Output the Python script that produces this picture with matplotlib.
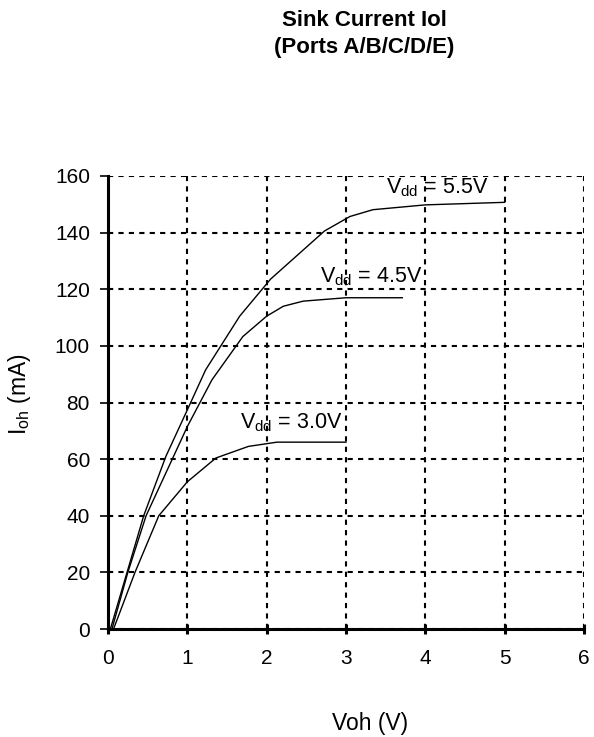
import matplotlib
matplotlib.use("Agg")
import matplotlib.pyplot as plt

plt.rcParams['font.family'] = ['Liberation Sans', 'DejaVu Sans']
plt.rcParams['mathtext.fontset'] = 'custom'
plt.rcParams['mathtext.rm'] = 'Liberation Sans'
plt.rcParams['mathtext.it'] = 'Liberation Sans:italic'

# Sink current curves
v55_x = [0.03, 0.45, 0.73, 1.0, 1.23, 1.66, 2.05, 2.73, 3.05, 3.34, 4.0, 5.0]
v55_y = [0, 40, 61, 77.4, 91.5, 110.5, 123.6, 140.6, 145.7, 148.1, 149.8, 150.7]

v45_x = [0.05, 0.25, 0.48, 1.0, 1.31, 1.70, 2.0, 2.21, 2.46, 3.0, 3.71]
v45_y = [0, 20, 40, 71.5, 88, 103.3, 110.5, 114, 115.8, 117, 117]

v30_x = [0.07, 0.34, 0.64, 1.0, 1.36, 1.77, 2.13, 2.5, 3.0]
v30_y = [0, 20, 40, 52, 60.4, 64.5, 66, 66, 66]

x_ticks = [0, 1, 2, 3, 4, 5, 6]
y_ticks = [0, 20, 40, 60, 80, 100, 120, 140, 160]

fig = plt.figure(figsize=(5.94, 7.37), dpi=100)
ax = fig.add_axes([0.1818, 0.1465, 0.8014, 0.6147])

for xs, ys in [(v55_x, v55_y), (v45_x, v45_y), (v30_x, v30_y)]:
    ax.plot(xs, ys, color='black', lw=1.0, zorder=3)

ax.set_xlim(0, 6)
ax.set_ylim(0, 160)
ax.set_xticks(x_ticks)
ax.set_yticks(y_ticks)

ax.grid(True, color='black', linestyle=(0, (2.5, 2.5)), lw=1.5)
ax.spines['top'].set_visible(False)
ax.spines['right'].set_visible(False)
ax.spines['left'].set_linewidth(2.2)
ax.spines['bottom'].set_linewidth(2.2)
ax.spines['left'].set_zorder(4)
ax.spines['bottom'].set_zorder(4)
ax.tick_params(axis='y', direction='out', length=6, width=1.2, pad=7, labelsize=15)
ax.tick_params(axis='x', direction='inout', length=7, width=2.2, pad=11, labelsize=15)

# curve labels
lab_kw = dict(fontsize=15.5, ha='left', va='baseline', zorder=5)
ax.text(3.51, 153.8, r'V$_{\rm dd}$ = 5.5V', **lab_kw)
ax.text(2.67, 122.4, r'V$_{\rm dd}$ = 4.5V', **lab_kw)
ax.text(1.66, 70.9, r'V$_{\rm dd}$ = 3.0V', **lab_kw)

ax.set_xlabel('Voh (V)', fontsize=16.5)
ax.xaxis.set_label_coords(0.55, -0.223)
ax.xaxis.label.set_va('baseline')
ax.set_ylabel(r'I$_{\rm oh}$ (mA)', fontsize=16.5)
ax.yaxis.set_label_coords(-0.158, 0.519)

fig.text(0.613, 1 - 10 / 737, 'Sink Current Iol\n(Ports A/B/C/D/E)', ha='center',
         va='top', fontsize=16, fontweight='bold', linespacing=1.4,
         multialignment='center')

fig.savefig('out.png', dpi=100)
